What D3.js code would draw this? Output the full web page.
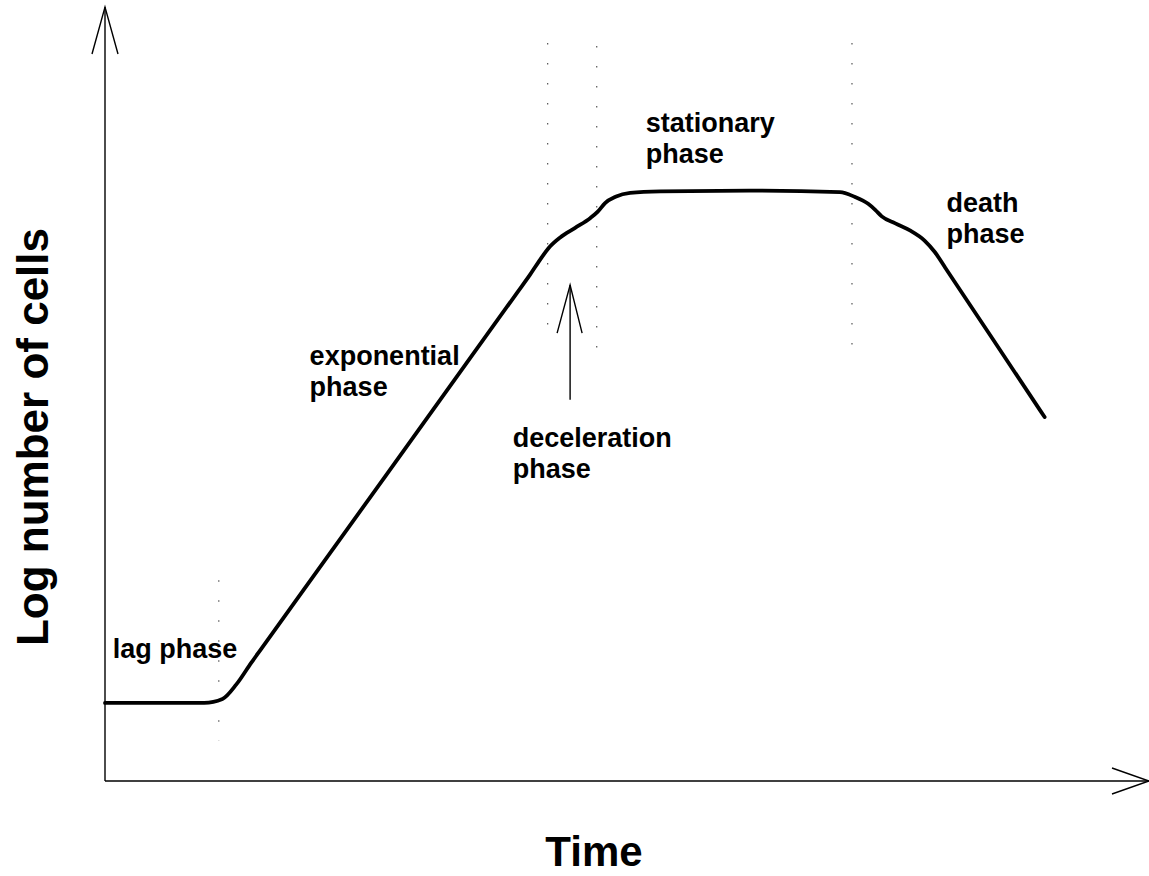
<!DOCTYPE html>
<html><head><meta charset="utf-8">
<script src="https://cdn.jsdelivr.net/npm/d3@7"></script>
<style>html,body{margin:0;padding:0;background:#fff;}svg{display:block;}</style>
</head><body>
<script>
// Growth curve data (time units, log number of cells)
const timeValues = [0, 9.5, 11.25, 12.6, 14, 15, 27, 39.5, 40.7, 41.7, 42.6, 43.6, 45.0, 46.5, 47.2, 47.9, 48.9, 50.3, 53.2, 61.8, 70.4, 71.8, 73.1, 73.8, 74.4, 75.7, 77.1, 78.5, 79.5, 80.5, 85, 90.0];
const logCells   = [1.0, 1.0, 1.05, 1.24, 1.512, 1.698, 3.93, 6.257, 6.48, 6.68, 6.84, 6.96, 7.08, 7.21, 7.29, 7.40, 7.48, 7.53, 7.55, 7.56, 7.54, 7.48, 7.39, 7.31, 7.23, 7.14, 7.05, 6.92, 6.77, 6.569, 5.665, 4.66];

// Phase boundaries (dotted lines): time, bottom, top
const boundaryTimes  = [10.9, 42.4, 47.1, 71.55];
const boundaryBottom = [0.52, 5.61, 5.53, 5.58];
const boundaryTop    = [2.57, 9.45, 9.41, 9.45];

// Phase labels
const labelLines = [["lag phase"], ["exponential", "phase"], ["deceleration", "phase"], ["stationary", "phase"], ["death", "phase"]];
const labelTime  = [0.75, 19.6, 39.05, 51.8, 80.6];
const labelLog   = [1.58, 5.33, 4.28, 8.31, 7.29];

// Deceleration arrow
const decelArrowTime = 44.55;
const decelArrowFrom = 4.88;
const decelArrowTo = 6.35;

const xAxisTitle = "Time";
const yAxisTitle = "Log number of cells";

const W = 1149, H = 876;
const x = d3.scaleLinear().domain([0, 100]).range([105, 1149]);
const y = d3.scaleLinear().domain([0, 10]).range([781, 0]);

const svg = d3.select("body").append("svg").attr("width", W).attr("height", H);
const font = "'Liberation Sans', Arial, Helvetica, sans-serif";

// axes
const axisG = svg.append("g").attr("stroke", "#000").attr("stroke-width", 1.4).attr("fill", "none");
axisG.append("line").attr("x1", x(0)).attr("y1", y(0)).attr("x2", x(0)).attr("y2", y(9.91));
axisG.append("path").attr("d", `M${x(0)-13},${y(9.91)+47} L${x(0)},${y(9.91)} L${x(0)+13},${y(9.91)+47}`);
axisG.append("line").attr("x1", x(0)).attr("y1", y(0)).attr("x2", x(100)).attr("y2", y(0));
axisG.append("path").attr("d", `M${x(100)-37},${y(0)-13} L${x(100)},${y(0)} L${x(100)-37},${y(0)+13}`);

// dotted boundaries
const bounds = boundaryTimes.map((t, i) => ({t, b: boundaryBottom[i], top: boundaryTop[i]}));
svg.append("g").selectAll("line").data(bounds).join("line")
  .attr("x1", d => x(d.t)).attr("x2", d => x(d.t))
  .attr("y1", d => y(d.top)).attr("y2", d => y(d.b))
  .attr("stroke", "#555").attr("stroke-width", 1.2).attr("stroke-dasharray", "1.5,18.5");

// growth curve
const pts = timeValues.map((t, i) => [t, logCells[i]]);
const line = d3.line().x(d => x(d[0])).y(d => y(d[1])).curve(d3.curveMonotoneX);
svg.append("path").datum(pts).attr("d", line)
  .attr("fill", "none").attr("stroke", "#000").attr("stroke-width", 3.8)
  .attr("stroke-linejoin", "round").attr("stroke-linecap", "round");

// deceleration arrow
const ag = svg.append("g").attr("stroke", "#000").attr("stroke-width", 1.4).attr("fill", "none");
ag.append("line").attr("x1", x(decelArrowTime)).attr("x2", x(decelArrowTime))
  .attr("y1", y(decelArrowFrom)).attr("y2", y(decelArrowTo));
ag.append("path").attr("d", `M${x(decelArrowTime)-13},${y(decelArrowTo)+48} L${x(decelArrowTime)},${y(decelArrowTo)} L${x(decelArrowTime)+12},${y(decelArrowTo)+48}`);

// labels
labelLines.forEach((lines, i) => {
  const t = svg.append("text").attr("x", x(labelTime[i])).attr("y", y(labelLog[i]))
    .attr("font-family", font).attr("font-weight", "bold").attr("font-size", 27).attr("fill", "#000");
  lines.forEach((s, j) => t.append("tspan").attr("x", x(labelTime[i])).attr("dy", j === 0 ? 0 : 31).text(s));
});

// axis titles
svg.append("text").attr("x", 594).attr("y", 866).attr("text-anchor", "middle")
  .attr("font-family", font).attr("font-weight", "bold").attr("font-size", 42).text(xAxisTitle);
svg.append("text").attr("transform", "translate(48,437) rotate(-90)").attr("text-anchor", "middle")
  .attr("font-family", font).attr("font-weight", "bold").attr("font-size", 44).text(yAxisTitle);
</script>
</body></html>
